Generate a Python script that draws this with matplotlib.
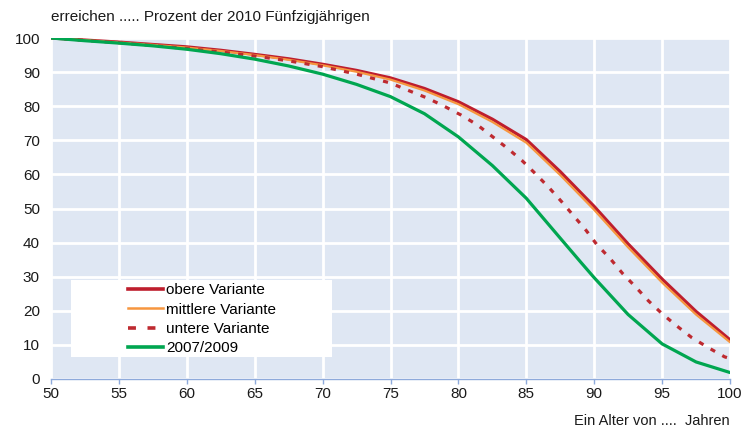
import matplotlib
matplotlib.use("Agg")
import matplotlib.pyplot as plt
from matplotlib.patches import Rectangle
from matplotlib.lines import Line2D

plt.rcParams['font.family'] = ['Liberation Sans', 'DejaVu Sans']

ages = [50, 52.5, 55, 57.5, 60, 62.5, 65, 67.5, 70, 72.5, 75, 77.5, 80,
        82.5, 85, 87.5, 90, 92.5, 95, 97.5, 100]
obere = [100, 99.4, 98.8, 98.1, 97.4, 96.4, 95.2, 93.9, 92.3, 90.5, 88.3,
         85.2, 81.3, 76.2, 70.2, 60.8, 50.6, 39.6, 29.3, 19.8, 11.5]
mittlere = [100, 99.4, 98.7, 98.0, 97.2, 96.2, 95.0, 93.6, 92.0, 90.1, 87.8,
            84.6, 80.6, 75.4, 69.3, 59.8, 49.6, 38.6, 28.3, 18.9, 10.8]
untere_ages = [50, 52.5, 55, 57.5, 60, 62.5, 65, 67.5, 70, 72.5, 75, 76.2,
               77.7, 78.9, 80.2, 81.4, 82.5, 83.6, 84.7, 85.7, 86.7, 87.6,
               88.5, 89.4, 90.2, 91.2, 92.1, 93.05, 94, 95.04, 96.1, 97.2,
               98.4, 99.6, 100]
untere = [100, 99.3, 98.6, 97.8, 96.9, 95.9, 94.7, 93.3, 91.6, 89.4, 86.8,
          84.8, 82.4, 80.1, 77.4, 74.5, 71.1, 67.7, 64.0, 60.1, 56.0, 52.0,
          47.8, 43.6, 39.4, 35.2, 30.9, 27.0, 22.9, 19.0, 15.5, 12.1,
          9.2, 6.5, 6.0]
p2007_ages = [50, 52.5, 55, 57.5, 60, 62.5, 65, 67.5, 70, 72.5, 75, 77.5, 80,
              82.5, 85, 87.5, 89, 90, 92.5, 95, 97.5, 100]
p2007 = [100, 99.2, 98.5, 97.7, 96.7, 95.4, 93.8, 91.8, 89.4, 86.4, 82.8,
         77.8, 71.0, 62.6, 53.0, 41.3, 34.3, 29.7, 18.9, 10.3, 5.0, 1.9]

labels = ['obere Variante', 'mittlere Variante', 'untere Variante', '2007/2009']
xticks = [50, 55, 60, 65, 70, 75, 80, 85, 90, 95, 100]
yticks = [0, 10, 20, 30, 40, 50, 60, 70, 80, 90, 100]

RED = '#be1e2d'
ORANGE = '#f7963f'
DRED = '#be2a30'
GREEN = '#00a650'
TXT = '#1a1a1a'
FS = 11

fig = plt.figure(figsize=(7.51, 4.29), dpi=100)
ax = fig.add_axes([51/751, 1-379/429, 679/751, 341/429])
ax.set_facecolor('#dfe7f3')

ax.plot(ages, obere, color=RED, lw=2.3, label=labels[0])
ax.plot(ages, mittlere, color=ORANGE, lw=1.6, label=labels[1])
ax.plot(untere_ages, untere, color=DRED, lw=2.3, dashes=(1.6, 2.6), label=labels[2])
ax.plot(p2007_ages, p2007, color=GREEN, lw=2.3, label=labels[3])

ax.set_xlim(50, 100)
ax.set_ylim(0, 100)
ax.set_xticks(xticks)
ax.set_yticks(yticks)
ax.grid(True, color='white', lw=2.0)
ax.set_axisbelow(True)

for s in ['top', 'right', 'left']:
    ax.spines[s].set_visible(False)
ax.spines['bottom'].set_color('#8eaadb')
ax.spines['bottom'].set_linewidth(1.0)
ax.tick_params(axis='x', colors='#8eaadb', direction='out', length=3.8, width=1.0,
               pad=2.0, labelcolor=TXT, labelsize=FS)
ax.tick_params(axis='y', length=0, pad=8, labelcolor=TXT, labelsize=FS)

fig.text(51/751, 1-17/429, 'erreichen ..... Prozent der 2010 Fünfzigjährigen',
         ha='left', va='center', fontsize=FS, color=TXT)
fig.text(730/751, 1-421/429, 'Ein Alter von ....  Jahren',
         ha='right', va='center', fontsize=10.5, color=TXT)

# legend box
box = Rectangle((20/679, 22/341), 261/679, 77/341, transform=ax.transAxes,
                facecolor='white', edgecolor='none', zorder=3)
ax.add_patch(box)
handles = [
    Line2D([], [], color=RED, lw=2.6),
    Line2D([], [], color=ORANGE, lw=1.8),
    Line2D([], [], color=DRED, lw=2.6, dashes=(2.2, 3.2)),
    Line2D([], [], color=GREEN, lw=2.6),
]
leg = ax.legend(handles, labels, loc='upper left',
                bbox_to_anchor=(77/679, (379-283)/341),
                frameon=False, fontsize=FS, handlelength=2.3, handletextpad=0.2,
                labelspacing=0.36, borderpad=0, borderaxespad=0)
leg.set_zorder(4)

fig.savefig('out.png', dpi=100)
